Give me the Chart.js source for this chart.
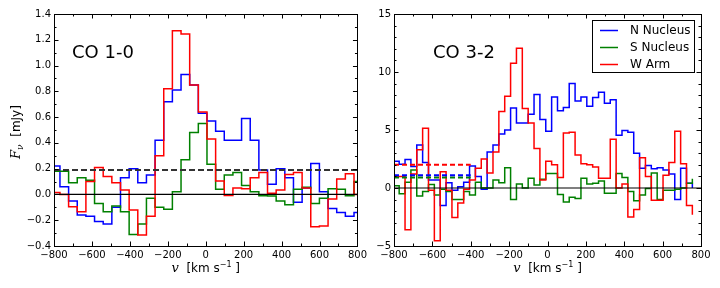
<!DOCTYPE html>
<html>
<head>
<meta charset="utf-8">
<script src="https://cdn.jsdelivr.net/npm/chart.js@4.4.0/dist/chart.umd.min.js"></script>
<style>
  html, body { margin: 0; padding: 0; background: #fff; }
  #wrap { position: relative; width: 720px; height: 288px; }
  canvas { position: absolute; top: 0; }
</style>
</head>
<body>
<div id="wrap">
  <canvas id="co10" width="370" height="288" style="left:0"></canvas>
  <canvas id="co32" width="350" height="288" style="left:370px"></canvas>
</div>
<script>
const FONT = "'DejaVu Sans', sans-serif";
const MATH = "'DejaVu Serif', serif";
const BLUE = '#0000ff', GREEN = '#008000', RED = '#ff0000';

// CO 1-0 : channel grid (km/s) and spectra (mJy)
const co10Start = -814.2;
const co10Width = 45.6;
const co10North = [0.22, 0.06, -0.05, -0.16, -0.17, -0.21, -0.23, -0.10, 0.13, 0.20, 0.09, 0.15,
  0.42, 0.72, 0.81, 0.93, 0.85, 0.63, 0.57, 0.49, 0.42, 0.42, 0.59, 0.42,
  0.19, 0.08, 0.20, 0.13, -0.06, 0.05, 0.24, 0.02, -0.11, -0.14, -0.17, -0.14];
const co10South = [0.18, 0.18, 0.09, 0.13, 0.11, -0.07, -0.135, -0.09, -0.135, -0.31, -0.23, -0.03,
  -0.10, -0.115, 0.02, 0.27, 0.48, 0.55, 0.235, 0.04, 0.15, 0.17, 0.07, 0.02,
  -0.01, -0.013, -0.05, -0.08, 0.04, 0.055, -0.07, -0.03, 0.045, 0.04, -0.01, 0.10];
const co10West = [0.015, 0.0, -0.095, -0.135, 0.10, 0.21, 0.14, 0.09, 0.035, -0.12, -0.315, -0.17,
  0.30, 0.82, 1.27, 1.245, 0.85, 0.64, 0.43, 0.105, -0.008, 0.05, 0.045, 0.13,
  0.17, 0.01, 0.035, 0.155, 0.17, 0.05, -0.25, -0.245, -0.035, 0.12, 0.16, 0.0];
const co10Rms = 0.19;

// CO 3-2
const co32Start = -803.6;
const co32Width = 30.56;
const co32North = [2.3, 2.05, 2.45, 1.85, 3.7, 2.2, 0.7, 0.7, -1.5, 0.45,
  -0.2, 0.1, 0.5, 1.9, 1.0, -0.1, 3.1, 3.7, 4.65, 5.0,
  6.9, 5.6, 5.6, 6.35, 8.05, 5.9, 4.9, 7.85, 6.65, 6.95,
  9.0, 7.5, 7.85, 7.05, 7.8, 8.25, 7.3, 7.6, 4.55, 4.95,
  4.8, 3.0, 1.7, 1.95, 1.65, 1.75, 1.55, 1.2, -1.0, 1.7, 0.4];
const co32South = [0.2, -0.5, 0.5, 1.55, -0.7, -0.3, 0.3, -0.6, -0.1, -0.3,
  -1.0, -1.0, -0.3, -0.6, 0.5, 0.0, 0.0, 0.7, 0.45, 1.75,
  -1.0, 0.35, 0.0, 0.85, 0.25, 0.75, 1.25, 1.25, -0.55, -1.2,
  -0.8, -0.9, 0.85, 0.35, 0.4, 0.6, -0.45, -0.45, 1.25, 0.9,
  -0.3, -1.1, -0.6, -0.05, 1.3, -1.0, -0.2, -0.2, -0.1, 0.0, 0.4];
const co32West = [1.0, 1.0, -3.6, 1.2, 3.3, 5.15, -0.2, -4.55, 1.4, -0.2,
  -2.55, -1.3, -0.1, 0.7, 1.7, 2.5, 1.3, 3.1, 6.6, 7.9,
  10.75, 12.05, 6.85, 5.6, 3.4, 0.7, 2.3, 2.0, 0.9, 4.75,
  4.8, 2.85, 2.1, 2.0, 1.8, 0.85, 0.85, 4.2, 0.0, 0.35,
  -2.5, -1.85, 2.6, 1.0, -1.05, -1.05, 1.1, 2.2, 4.9, 2.1, -1.5];
const co32Tail = { north: 0.0, south: 0.8, west: -2.3 };
const co32Rms = { north: 1.1, south: 0.9, west: 2.0 };
const co32RmsRange = [-800, -400];

const seriesNames = ['N Nucleus', 'S Nucleus', 'W Arm'];
const seriesColors = [BLUE, GREEN, RED];

function stepPoints(start, width, vals, tail) {
  const pts = vals.map((y, i) => ({ x: start + width * i, y }));
  pts.push({ x: start + width * vals.length, y: tail === undefined ? vals[vals.length - 1] : tail });
  return pts;
}

function fmt(d) {
  return v => (v < -1e-9 ? '\u2212' : '') + Math.abs(v).toFixed(d);
}

function spectrum(label, color, pts, order) {
  return { label, data: pts, borderColor: color, borderWidth: 1.5, stepped: 'before',
    pointRadius: 0, fill: false, order };
}

function hline(x0, x1, y, color, width, dash) {
  return { data: [{ x: x0, y }, { x: x1, y }], borderColor: color, borderWidth: width,
    borderDash: dash || [], pointRadius: 0, fill: false, order: 0 };
}

// inward ticks on all four sides plus the frame
const frameTicks = {
  id: 'frameTicks',
  afterDraw(chart, args, o) {
    const { ctx, chartArea: a } = chart;
    const sx = chart.scales.x, sy = chart.scales.y;
    ctx.save();
    ctx.strokeStyle = '#000';
    ctx.lineWidth = 1;
    ctx.beginPath();
    const marks = (scale, step, len, horiz) => {
      const n = Math.round((scale.max - scale.min) / step);
      for (let i = 0; i <= n; i++) {
        const p = Math.round(scale.getPixelForValue(scale.min + i * step)) + 0.5;
        if (horiz) {
          ctx.moveTo(p, a.bottom); ctx.lineTo(p, a.bottom - len);
          ctx.moveTo(p, a.top); ctx.lineTo(p, a.top + len);
        } else {
          ctx.moveTo(a.left, p); ctx.lineTo(a.left + len, p);
          ctx.moveTo(a.right, p); ctx.lineTo(a.right - len, p);
        }
      }
    };
    marks(sx, o.xMajor, 4.5, true);
    marks(sx, o.xMinor, 2.5, true);
    marks(sy, o.yMajor, 4.5, false);
    marks(sy, o.yMinor, 2.5, false);
    ctx.stroke();
    ctx.strokeRect(Math.round(a.left) + 0.5, Math.round(a.top) + 0.5,
      Math.round(a.right - a.left), Math.round(a.bottom - a.top));
    ctx.restore();
  }
};

function drawParts(ctx, parts, x, y) {
  let total = 0;
  parts.forEach(p => { ctx.font = p.f; p.w = ctx.measureText(p.t).width; total += p.w; });
  let cx = x - total / 2;
  parts.forEach(p => { ctx.font = p.f; ctx.fillText(p.t, cx, y + p.dy); cx += p.w; });
}

const annotations = {
  id: 'annotations',
  afterDraw(chart, args, o) {
    const { ctx, chartArea: a } = chart;
    ctx.save();
    ctx.fillStyle = '#000';
    ctx.textBaseline = 'alphabetic';
    ctx.textAlign = 'left';
    ctx.font = '18px ' + FONT;
    ctx.fillText(o.label, o.labelX, 58);

    drawParts(ctx, [
      { t: 'v', f: 'italic 13px ' + MATH, dy: 0 },
      { t: '  [km s', f: '12px ' + FONT, dy: 0 },
      { t: '\u22121', f: '8px ' + FONT, dy: -5 },
      { t: ' ]', f: '12px ' + FONT, dy: 0 }
    ], (a.left + a.right) / 2, 272);

    if (o.yTitle) {
      ctx.save();
      ctx.translate(20, 132);
      ctx.rotate(-Math.PI / 2);
      drawParts(ctx, [
        { t: 'F', f: 'italic 13px ' + MATH, dy: 0 },
        { t: '\u03bd', f: 'italic 9px ' + MATH, dy: 3 },
        { t: '  [mJy]', f: '12px ' + FONT, dy: 0 }
      ], 0, 0);
      ctx.restore();
    }

    if (o.legend) {
      const bx = 222, by = 20, bw = 102, bh = 52;
      ctx.fillStyle = '#fff';
      ctx.fillRect(bx, by, bw, bh);
      ctx.strokeStyle = '#000';
      ctx.lineWidth = 1;
      ctx.strokeRect(bx + 0.5, by + 0.5, bw, bh);
      ctx.font = '12px ' + FONT;
      ctx.textBaseline = 'middle';
      seriesNames.forEach((name, i) => {
        const yy = 30 + i * 17;
        ctx.strokeStyle = seriesColors[i];
        ctx.lineWidth = 1.5;
        ctx.beginPath();
        ctx.moveTo(230, yy + 0.5); ctx.lineTo(248, yy + 0.5);
        ctx.stroke();
        ctx.fillStyle = '#000';
        ctx.fillText(name, 260, yy + 1);
      });
    }
    ctx.restore();
  }
};

function makeChart(id, datasets, yCfg, layoutPad, yWidth, extra) {
  return new Chart(document.getElementById(id), {
    type: 'line',
    data: { datasets },
    options: {
      responsive: false,
      animation: false,
      devicePixelRatio: 1,
      parsing: true,
      layout: { padding: layoutPad },
      scales: {
        x: {
          type: 'linear', min: -800, max: 800,
          grid: { display: false, drawTicks: false },
          border: { display: false },
          ticks: { stepSize: 200, padding: 3, maxRotation: 0, color: '#000',
            font: { family: FONT, size: 10 }, callback: fmt(0) },
          afterFit: s => { s.height = 42; }
        },
        y: {
          type: 'linear', min: yCfg.min, max: yCfg.max,
          grid: { display: false, drawTicks: false },
          border: { display: false },
          ticks: { stepSize: yCfg.step, padding: 3, color: '#000',
            font: { family: FONT, size: 10 }, callback: fmt(yCfg.dec) },
          afterFit: s => { s.width = yWidth; }
        }
      },
      plugins: {
        legend: { display: false },
        tooltip: { enabled: false },
        frameTicks: { xMajor: 200, xMinor: 100, yMajor: yCfg.step, yMinor: yCfg.minor },
        annotations: extra
      }
    },
    plugins: [frameTicks, annotations]
  });
}

makeChart('co10', [
  hline(-800, 800, 0, '#000', 1.2),
  hline(-800, 800, co10Rms, '#333', 2, [6, 3]),
  spectrum('W Arm', RED, stepPoints(co10Start, co10Width, co10West), 1),
  spectrum('S Nucleus', GREEN, stepPoints(co10Start, co10Width, co10South), 2),
  spectrum('N Nucleus', BLUE, stepPoints(co10Start, co10Width, co10North), 3)
], { min: -0.4, max: 1.4, step: 0.2, minor: 0.1, dec: 1 },
  { left: 0, right: 10, top: 14, bottom: 0 }, 54,
  { label: 'CO 1-0', labelX: 72, yTitle: true, legend: false });

makeChart('co32', [
  hline(-800, 800, 0, '#000', 1.2),
  hline(co32RmsRange[0], co32RmsRange[1], co32Rms.west, RED, 2, [5, 3]),
  hline(co32RmsRange[0], co32RmsRange[1], co32Rms.north, BLUE, 2, [5, 3]),
  hline(co32RmsRange[0], co32RmsRange[1], co32Rms.south, GREEN, 2, [5, 3]),
  spectrum('W Arm', RED, stepPoints(co32Start, co32Width, co32West, co32Tail.west), 1),
  spectrum('S Nucleus', GREEN, stepPoints(co32Start, co32Width, co32South, co32Tail.south), 2),
  spectrum('N Nucleus', BLUE, stepPoints(co32Start, co32Width, co32North, co32Tail.north), 3)
], { min: -5, max: 15, step: 5, minor: 1, dec: 0 },
  { left: 0, right: 19, top: 14, bottom: 0 }, 24,
  { label: 'CO 3-2', labelX: 63, yTitle: false, legend: true });
</script>
</body>
</html>
